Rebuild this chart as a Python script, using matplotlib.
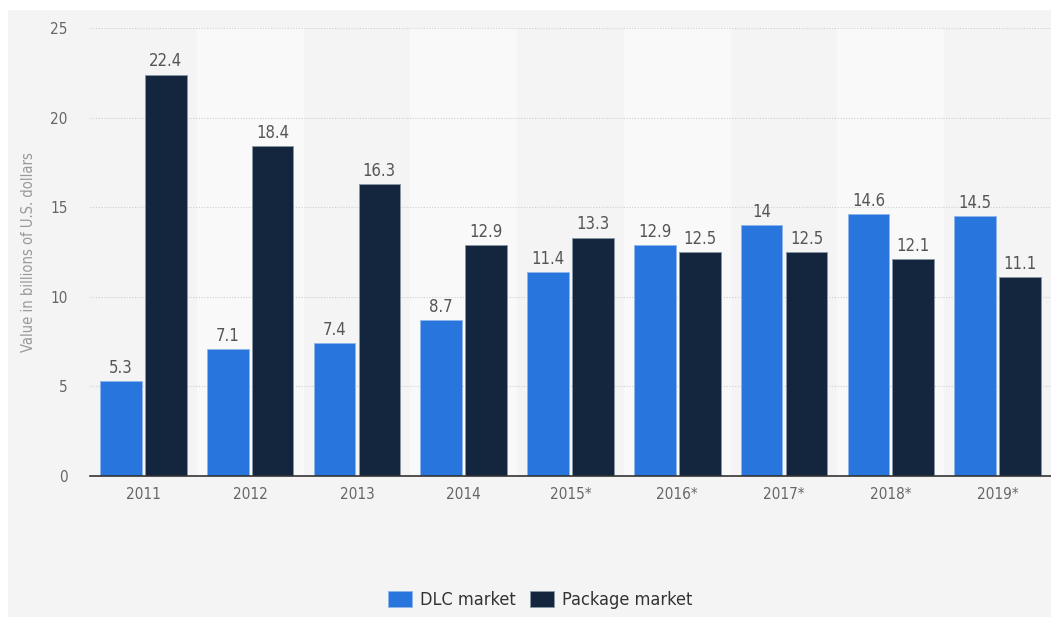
import matplotlib.pyplot as plt
from matplotlib.patches import Rectangle
import numpy as np

# game market values, billions of U.S. dollars
years = ['2011', '2012', '2013', '2014', '2015*', '2016*', '2017*', '2018*', '2019*']
dlc = [5.3, 7.1, 7.4, 8.7, 11.4, 12.9, 14, 14.6, 14.5]
package = [22.4, 18.4, 16.3, 12.9, 13.3, 12.5, 12.5, 12.1, 11.1]

plt.rcParams['font.family'] = ['DejaVu Sans']
plt.rcParams['font.stretch'] = 'condensed'

fig = plt.figure(figsize=(10.51, 6.17), dpi=100)
fig.patch.set_facecolor('white')
# light gray panel behind everything
fig.patches.append(Rectangle((8 / 1051, 0), 1, 1 - 10 / 617, transform=fig.transFigure,
                             facecolor='#f4f4f4', edgecolor='none', zorder=-5))

ax = fig.add_axes([90 / 1051, 1 - 476 / 617, 1 - 90 / 1051, (476 - 28) / 617])
ax.set_facecolor('none')

x = np.arange(len(years))
w = 0.39
off = 0.21

# alternating column bands
for i in x:
    if i % 2 == 1:
        ax.axvspan(i - 0.5, i + 0.5, color='#f9f9f9', zorder=0, lw=0)

for y in [5, 10, 15, 20, 25]:
    ax.axhline(y, color='#cfcfcf', lw=0.8, ls=(0, (1, 1.5)), zorder=1)

b1 = ax.bar(x - off, dlc, w, color='#2876dd', edgecolor='#8fb6ea', lw=0.6, zorder=3,
            label='DLC market')
b2 = ax.bar(x + off, package, w, color='#13263d', edgecolor='#8a96a3', lw=0.6, zorder=3,
            label='Package market')

for bars, vals in [(b1, dlc), (b2, package)]:
    for r, v in zip(bars, vals):
        ax.annotate(f'{v:g}', (r.get_x() + r.get_width() / 2, v), xytext=(0, 3),
                    textcoords='offset points', ha='center', va='bottom',
                    fontsize=12, color='#555555')

ax.set_xlim(-0.5, len(years) - 0.5)
ax.set_ylim(0, 25)
ax.set_xticks(x)
ax.set_xticklabels(years)
ax.set_yticks([0, 5, 10, 15, 20, 25])
ax.tick_params(axis='both', length=0, labelsize=11, colors='#666666')
ax.tick_params(axis='y', pad=16)
ax.tick_params(axis='x', pad=8)

for s in ['top', 'right', 'left']:
    ax.spines[s].set_visible(False)
ax.spines['bottom'].set_color('#333333')
ax.spines['bottom'].set_linewidth(1.2)
ax.spines['bottom'].set_zorder(4)

fig.text(29 / 1051, 1 - 252 / 617, 'Value in billions of U.S. dollars', rotation=90,
         ha='center', va='center', fontsize=10.5, color='#999999')

fig.legend(handles=[b1, b2], loc='center', bbox_to_anchor=(540 / 1051, 1 - 600 / 617),
           ncol=2, frameon=False, fontsize=13, handlelength=1.35, handleheight=1.0,
           handletextpad=0.4, columnspacing=0.8, labelcolor='#333333')

fig.savefig('out.png', dpi=100)
